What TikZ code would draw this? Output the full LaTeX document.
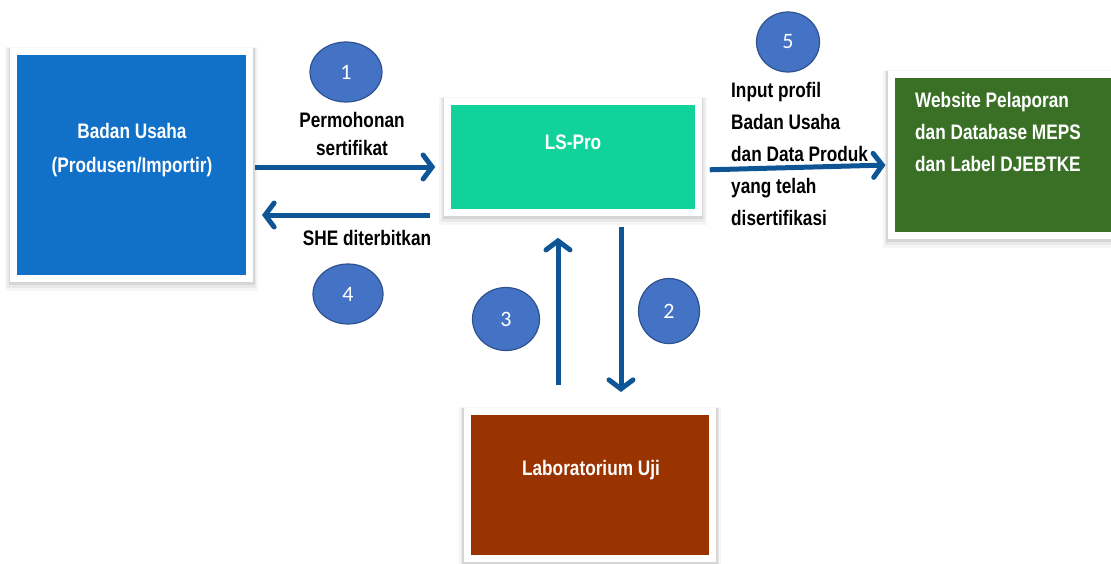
\documentclass[tikz,border=0pt]{standalone}
\usepackage{fontspec}
\setmainfont{Liberation Sans}
\newfontfamily\narrowfont[FakeStretch=0.82]{Liberation Sans}
\newfontfamily\numfont{Carlito}
\usetikzlibrary{arrows.meta,shapes.geometric}
\definecolor{cBU}{HTML}{1170C8}
\definecolor{cLS}{HTML}{12D29B}
\definecolor{cLab}{HTML}{993300}
\definecolor{cWeb}{HTML}{3A7026}
\definecolor{cCirc}{HTML}{4472C4}
\definecolor{cCircB}{HTML}{2F528F}
\definecolor{cArr}{HTML}{0E5596}
\begin{document}
\begin{tikzpicture}[x=1pt,y=-1pt,
  box/.style={draw=white, line width=7pt, inner sep=0pt,
    preaction={draw=black!70, draw opacity=0.05, line width=17pt, transform canvas={yshift=-4pt}},
    preaction={draw=black!70, draw opacity=0.08, line width=13pt, transform canvas={yshift=-3pt}},
    preaction={draw=black!70, draw opacity=0.12, line width=10pt, transform canvas={yshift=-1.5pt}}},
  wtext/.style={text=white, align=center, inner sep=0pt,
    font=\narrowfont\bfseries\fontsize{21}{34}\selectfont},
  btext/.style={text=black, align=center, inner sep=0pt,
    font=\narrowfont\bfseries\fontsize{21}{28}\selectfont},
  num/.style={ellipse, draw=cCircB, line width=1.2pt, fill=cCirc, text=white,
    inner sep=0pt, font=\numfont\fontsize{22}{24}\selectfont},
  arr/.style={draw=cArr, line width=5pt,
    -{Straight Barb[length=9pt, width=24pt, line cap=round]}}
]
\useasboundingbox (0,0) rectangle (1111,563);
\clip (0,0) rectangle (1111,563);

% boxes
\node[box, fill=cBU, minimum width=236pt, minimum height=227pt] (bu) at (131.5,165) {};
\node[box, fill=cLS, minimum width=250.5pt, minimum height=110.5pt] (ls) at (573,157) {};
\node[box, fill=cLab, minimum width=245.5pt, minimum height=147pt] (lab) at (590,485) {};
\node[box, fill=cWeb, minimum width=226pt, minimum height=161.5pt] (web) at (1004,155) {};

% box texts
\node[wtext] (tbu) at (132,150) {Badan Usaha\\(Produsen/Importir)};
\node[wtext] (tls) at (573,142) {LS-Pro};
\node[wtext] (tlab) at (591,470) {Laboratorium Uji};
\node[wtext, align=left, anchor=west, font=\narrowfont\bfseries\fontsize{21}{32}\selectfont]
  (tweb) at (915,132) {Website Pelaporan\\dan Database MEPS\\dan Label DJEBTKE};

% arrow labels
\node[btext] (l1) at (352,134) {Permohonan\\sertifikat};
\node[btext] (l4) at (367,238) {SHE diterbitkan};
\node[btext, align=left, anchor=west, font=\narrowfont\bfseries\fontsize{21}{32}\selectfont]
  (l5) at (731,154) {Input profil\\Badan Usaha\\dan Data Produk\\yang telah\\disertifikasi};

% number circles
\node[num, minimum width=72pt, minimum height=60pt] (c1) at (346,72) {1};
\node[num, minimum width=70pt, minimum height=60pt] (c4) at (348,294) {4};
\node[num, minimum width=63pt, minimum height=60pt] (c5) at (788,42) {5};
\node[num, minimum width=67pt, minimum height=63pt] (c3) at (506,319) {3};
\node[num, minimum width=61pt, minimum height=65pt] (c2) at (669,311) {2};

% arrows
\draw[arr, shorten <=2pt, shorten >=9pt] (bu.east |- 0,167) -- (ls.west |- 0,167);
\draw[arr, shorten <=14pt, shorten >=9pt] (ls.west |- 0,215) -- (bu.east |- 0,215);
\draw[arr, shorten <=8pt, shorten >=2pt] (ls.east |- 0,170) -- (web.west |- 0,165);
\draw[arr, shorten <=11pt, shorten >=16pt] (ls.south -| 621,0) -- (lab.north -| 621,0);
\draw[arr, shorten <=23pt, shorten >=22pt] (lab.north -| 558,0) -- (ls.south -| 558,0);
\end{tikzpicture}
\end{document}
